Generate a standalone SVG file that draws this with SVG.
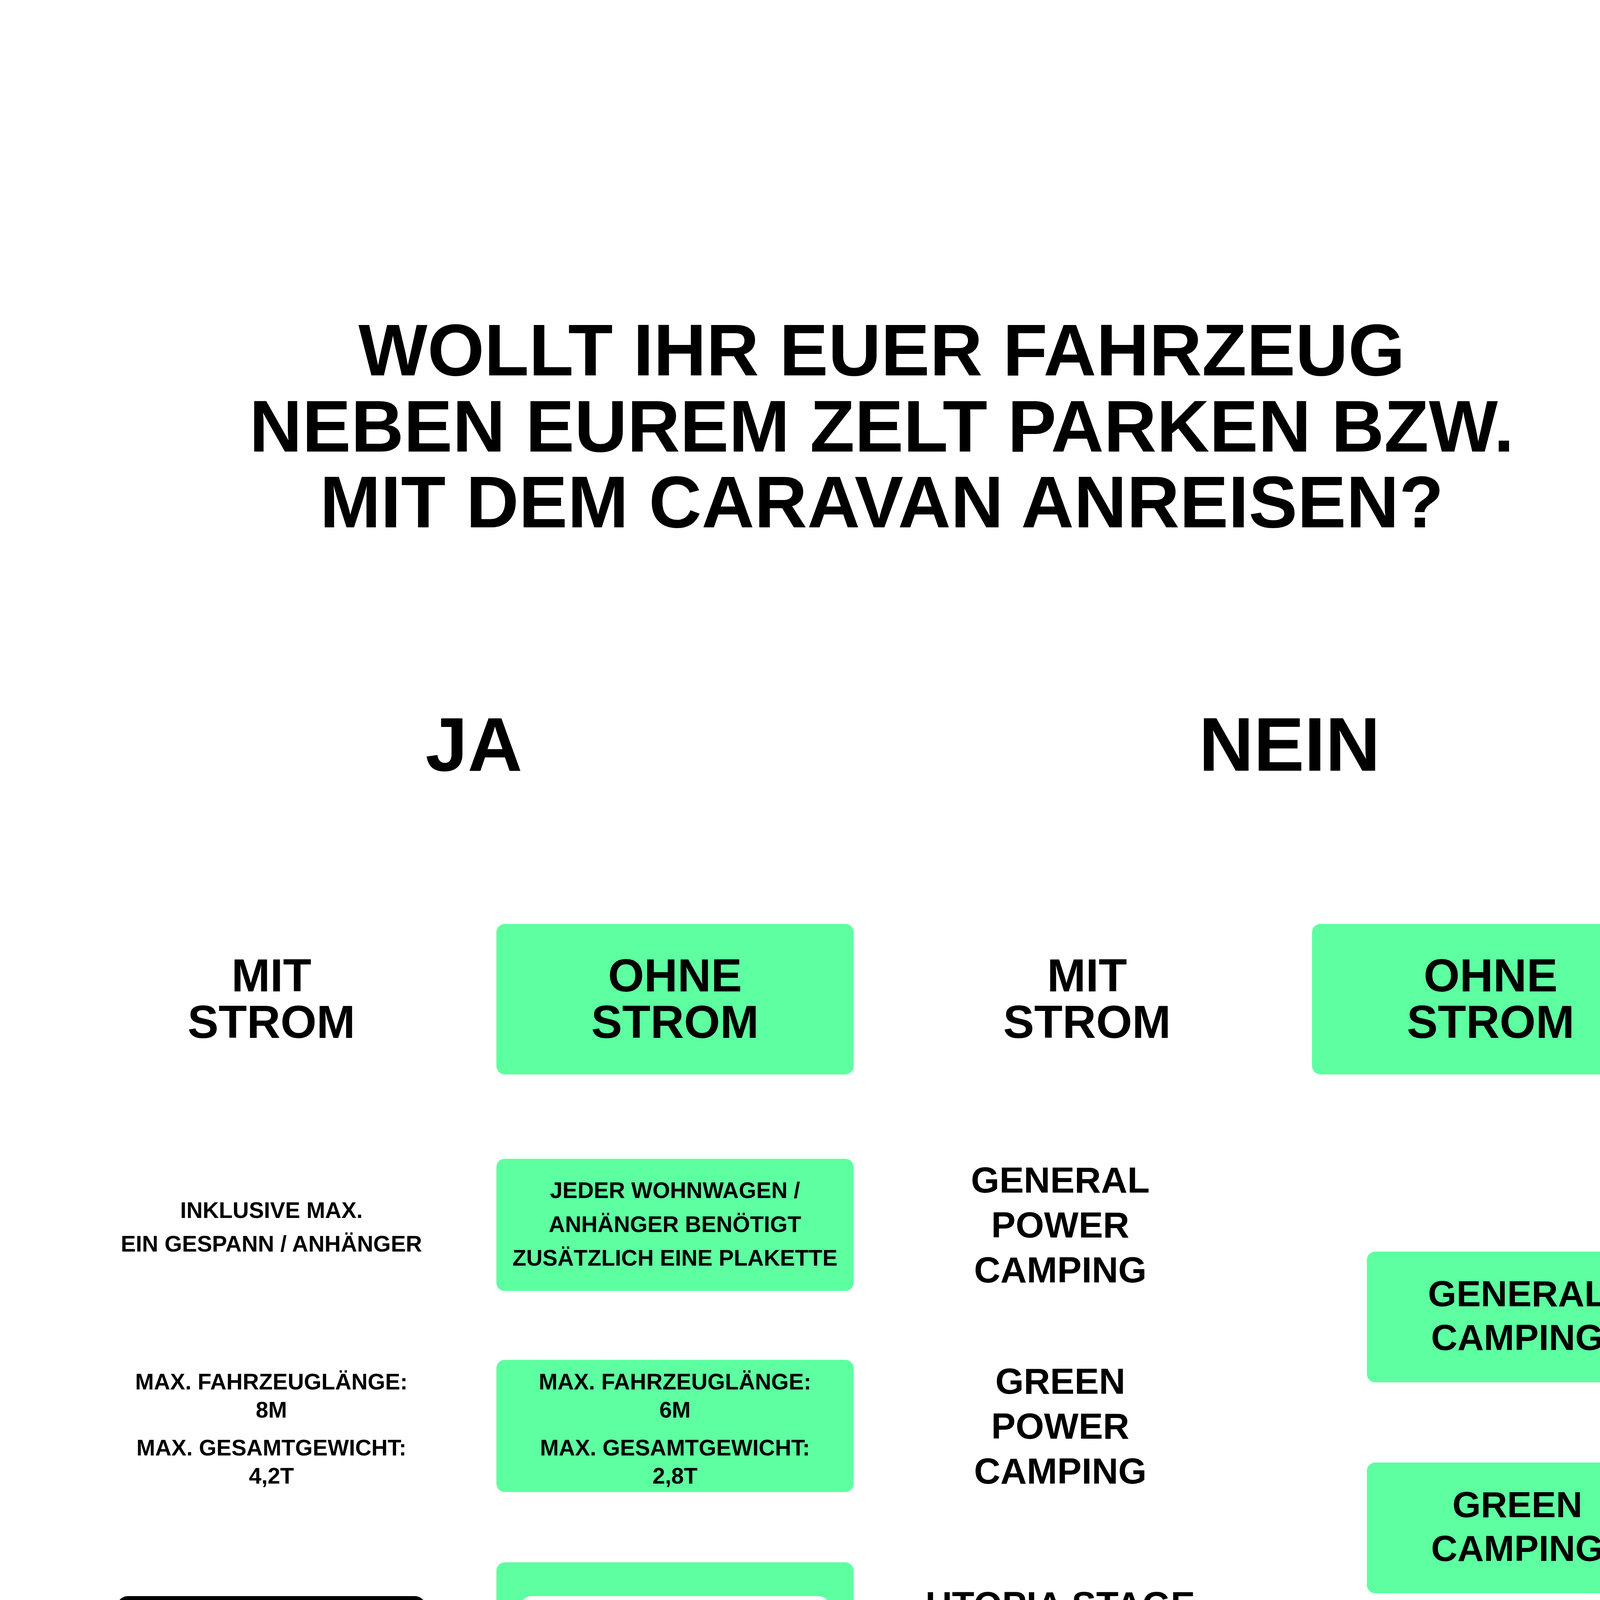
<svg xmlns="http://www.w3.org/2000/svg" width="4500" height="5625" viewBox="0 0 4500 5625">
<style>
text{font-family:"Liberation Sans",Arial,sans-serif;font-weight:bold;text-anchor:middle;fill:#000}
.g{fill:#5dffa0}
.t{font-size:52px}
.h{font-size:54px}
.m{font-size:33px}
.s{font-size:16px}
.c{font-size:26px}
.w{fill:#fff}
.p{font-size:14px;font-weight:normal}
</style>
<rect width="4500" height="5625" fill="#fff"/>
<g transform="scale(3.6)">
<g id="title"><text class="t" x="627" y="267">WOLLT IHR EUER FAHRZEUG</text><text class="t" x="627" y="321">NEBEN EUREM ZELT PARKEN BZW.</text><text class="t" x="627" y="375">MIT DEM CARAVAN ANREISEN?</text></g>
<g id="ja"><text class="h" x="337" y="548">JA</text></g>
<g id="nein"><text class="h" x="917" y="548">NEIN</text></g>
<g id="mit1"><text class="m" x="193" y="705">MIT</text><text class="m" x="193" y="738">STROM</text></g>
<g id="ohne1"><rect class="g" x="353" y="657" width="254" height="107" rx="6"/><text class="m" x="480" y="705">OHNE</text><text class="m" x="480" y="738">STROM</text></g>
<g id="mit2"><text class="m" x="773" y="705">MIT</text><text class="m" x="773" y="738">STROM</text></g>
<g id="ohne2"><rect class="g" x="933" y="657" width="254" height="107" rx="6"/><text class="m" x="1060" y="705">OHNE</text><text class="m" x="1060" y="738">STROM</text></g>
<g id="inkl"><text class="s" x="193" y="866">INKLUSIVE MAX.</text><text class="s" x="193" y="890">EIN GESPANN / ANHÄNGER</text></g>
<g id="jeder"><rect class="g" x="353" y="824" width="254" height="94" rx="6"/><text class="s" x="480" y="852">JEDER WOHNWAGEN /</text><text class="s" x="480" y="876">ANHÄNGER BENÖTIGT</text><text class="s" x="480" y="900">ZUSÄTZLICH EINE PLAKETTE</text></g>
<g id="max1"><text class="s" x="193" y="988">MAX. FAHRZEUGLÄNGE:</text><text class="s" x="193" y="1008">8M</text><text class="s" x="193" y="1035">MAX. GESAMTGEWICHT:</text><text class="s" x="193" y="1055">4,2T</text></g>
<g id="max2"><rect class="g" x="353" y="967" width="254" height="94" rx="6"/><text class="s" x="480" y="988">MAX. FAHRZEUGLÄNGE:</text><text class="s" x="480" y="1008">6M</text><text class="s" x="480" y="1035">MAX. GESAMTGEWICHT:</text><text class="s" x="480" y="1055">2,8T</text></g>
<g id="gpc"><text class="c" x="754" y="848">GENERAL</text><text class="c" x="754" y="880">POWER</text><text class="c" x="754" y="912">CAMPING</text></g>
<g id="grpc"><text class="c" x="754" y="991">GREEN</text><text class="c" x="754" y="1023">POWER</text><text class="c" x="754" y="1055">CAMPING</text></g>
<g id="utopia"><text class="c" x="754" y="1150">UTOPIA STAGE</text><text class="c" x="754" y="1182">CAMPING</text></g>
<g id="race"><text class="c" x="754" y="1280">RACETRACK</text><text class="c" x="754" y="1312">POWER</text><text class="c" x="754" y="1344">CAMPING</text></g>
<g id="exp"><text class="c" x="754" y="1438">EXPERIENCE</text><text class="c" x="754" y="1470">CAMPING</text></g>
<g id="genc"><rect class="g" x="972" y="890" width="215" height="93" rx="6"/><text class="c" x="1079" y="929">GENERAL</text><text class="c" x="1079" y="960">CAMPING</text></g>
<g id="grc"><rect class="g" x="972" y="1040" width="215" height="93" rx="6"/><text class="c" x="1079" y="1079">GREEN</text><text class="c" x="1079" y="1110">CAMPING</text></g>
<g id="ccpc"><rect x="83" y="1135" width="220" height="98" rx="8"/><text class="c w" x="193" y="1162">CAR / CARAVAN</text><text class="c w" x="193" y="1194">POWER</text><text class="c w" x="193" y="1226">CAMPING</text><text class="p" x="193" y="1256">(Pro Person)</text></g>
<g id="plus1"><text x="193" y="1316" style="font-size:48px">+</text></g>
<g id="ccpp"><rect x="83" y="1348" width="220" height="98" rx="8"/><text class="c w" x="193" y="1374">CAR / CARAVAN</text><text class="c w" x="193" y="1406">POWER</text><text class="c w" x="193" y="1438">PLAKETTE</text><text class="p" x="193" y="1469">(Je Fahrzeug / Gespann)</text></g>
<g id="ctgroup"><rect class="g" x="353" y="1111" width="254" height="381" rx="6"/>
<rect class="w" x="370" y="1135" width="220" height="98" rx="8"/><text class="c" x="480" y="1177">CAR &amp; TENT</text><text class="c" x="480" y="1208">CAMPING</text><text class="p" x="480" y="1256">(Pro Person)</text>
<text x="480" y="1316" style="font-size:48px">+</text>
<rect class="w" x="370" y="1348" width="220" height="98" rx="8"/><text class="c" x="480" y="1390">CAR &amp; TENT</text><text class="c" x="480" y="1421">PLAKETTE</text><text class="p" x="480" y="1469">(Je Fahrzeug / Anhänger)</text></g>
<g id="connectors"/>
</g>
</svg>
